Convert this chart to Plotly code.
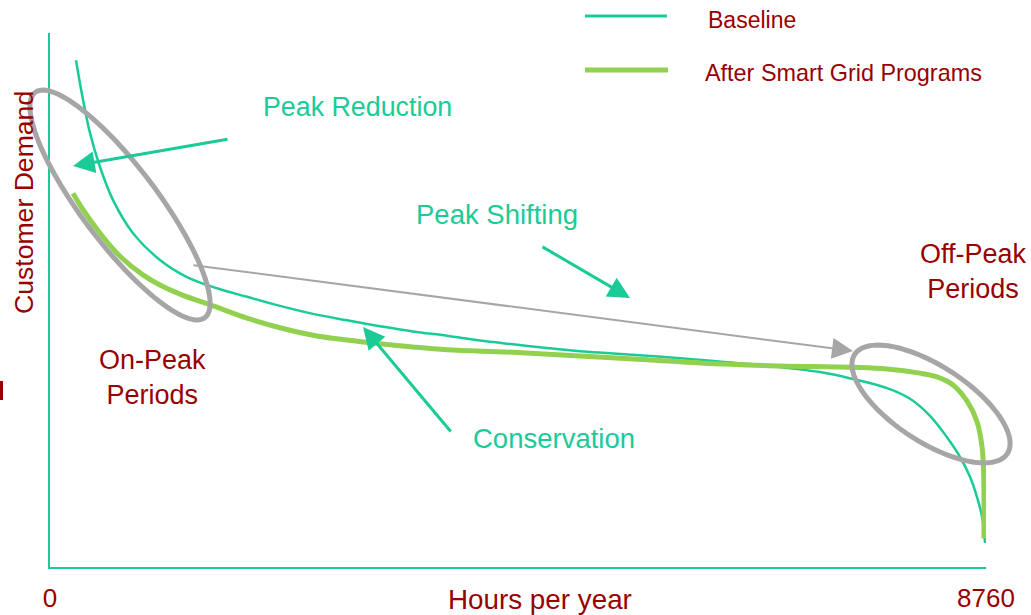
import numpy as np
import plotly.graph_objects as go

# ---- data (hours per year vs. customer demand, % of axis height) ----
baseline_hours = [243, 309, 374, 468, 590, 777, 1029, 1282, 1563, 1844, 2153, 2461, 2780,
                  3088, 3397, 3716, 4024, 4333, 4651, 4960, 5269, 5896, 6551, 7206, 7515,
                  7834, 8049, 8236, 8395, 8517, 8610, 8676, 8723, 8751]
baseline_demand = [94.9, 87.5, 81.3, 74.9, 68.7, 62.5, 57.5, 54.3, 52.2, 50.6, 48.9, 47.4, 46.2,
                   45.1, 44.1, 43.3, 42.4, 41.7, 41.0, 40.4, 40.0, 39.1, 38.0, 36.5, 35.2,
                   33.5, 31.5, 28.3, 24.3, 20.6, 16.9, 13.1, 9.4, 4.5]

after_hours = [215, 309, 468, 655, 870, 1029, 1217, 1526, 1844, 2153, 2461, 2780, 3088, 3397,
               3716, 4333, 4960, 5587, 6083, 6739, 7515, 7834, 8142, 8301, 8451, 8582, 8676,
               8723, 8737, 8741, 8741]
after_demand = [70.0, 66.9, 62.5, 58.2, 54.7, 52.8, 51.1, 48.9, 46.6, 44.8, 43.4, 42.5, 41.8, 41.2,
                40.7, 40.2, 39.5, 38.8, 38.2, 37.7, 37.4, 37.1, 36.3, 35.6, 34.1, 31.1, 27.2,
                22.5, 18.2, 13.1, 5.4]

x_tick_vals = [0, 8760]
x_tick_text = ["0", "8760"]
series_names = ["Baseline", "After Smart Grid Programs"]

# ---- style ----
TEAL = "#1ACB98"
GREEN = "#92D050"
RED = "#990000"
GRAY = "#A6A6A6"
FONT = "Liberation Sans, Arial, sans-serif"

W, H = 1031, 615
L, R, T, B = 50, 45, 33, 48
PW, PH = W - L - R, H - T - B


def PX(x):
    return (x - L) / PW


def PY(y):
    return (H - B - y) / PH


fig = go.Figure()
fig.add_trace(go.Scatter(x=baseline_hours, y=baseline_demand, mode="lines", name=series_names[0],
                         line=dict(color=TEAL, width=2.5, shape="spline", smoothing=1.0),
                         showlegend=False))
fig.add_trace(go.Scatter(x=after_hours, y=after_demand, mode="lines", name=series_names[1],
                         line=dict(color=GREEN, width=5, shape="spline", smoothing=1.0),
                         showlegend=False))

shapes = []


def ellipse_path(cx, cy, a, b, ang_deg, n=120):
    t = np.linspace(0, 2 * np.pi, n, endpoint=False)
    th = np.deg2rad(ang_deg)
    xs = cx + a * np.cos(t) * np.cos(th) - b * np.sin(t) * np.sin(th)
    ys = cy + a * np.cos(t) * np.sin(th) + b * np.sin(t) * np.cos(th)
    pts = [f"{PX(x):.5f},{PY(y):.5f}" for x, y in zip(xs, ys)]
    return "M " + " L ".join(pts) + " Z"


for (cx, cy, a, b, ang) in [(120, 205, 141, 38, 53), (931, 404, 91, 38, 33)]:
    shapes.append(dict(type="path", xref="paper", yref="paper", path=ellipse_path(cx, cy, a, b, ang),
                       line=dict(color=GRAY, width=5), fillcolor="rgba(0,0,0,0)", layer="above"))

# legend samples
shapes.append(dict(type="line", xref="paper", yref="paper", x0=PX(585), x1=PX(667), y0=PY(16), y1=PY(16),
                   line=dict(color=TEAL, width=3)))
shapes.append(dict(type="line", xref="paper", yref="paper", x0=PX(585), x1=PX(668), y0=PY(70), y1=PY(70),
                   line=dict(color=GREEN, width=5)))
# clipped glyph fragment at left edge
shapes.append(dict(type="line", xref="paper", yref="paper", x0=PX(1.5), x1=PX(1.5), y0=PY(381), y1=PY(400),
                   line=dict(color=RED, width=3)))

annotations = []


def text(s, x, y, color, size, xanchor="center", angle=0):
    annotations.append(dict(text=s, x=PX(x), y=PY(y), xref="paper", yref="paper", showarrow=False,
                            xanchor=xanchor, yanchor="middle", textangle=angle,
                            font=dict(family=FONT, size=size, color=color)))


def arrow(x0, y0, x1, y1, color, width, size):
    annotations.append(dict(text="", x=PX(x1), y=PY(y1), xref="paper", yref="paper",
                            ax=x0 - x1, ay=y0 - y1, axref="pixel", ayref="pixel",
                            showarrow=True, arrowhead=2, arrowsize=size, arrowwidth=width,
                            arrowcolor=color, standoff=0))


text("Baseline", 706, 20, RED, 23, xanchor="left")
text("After Smart Grid Programs", 703, 73, RED, 23.4, xanchor="left")
text("Peak Reduction", 357, 107, TEAL, 26.8)
text("Peak Shifting", 497, 214, TEAL, 27.5)
text("Conservation", 554, 438, TEAL, 27.5)
text("On-Peak<br>Periods", 152, 377, RED, 27)
text("Off-Peak<br>Periods", 973, 271, RED, 27)
text("Customer Demand", 24, 203, RED, 26.6, angle=-90)
text("Hours per year", 540, 599, RED, 27.8)

arrow(229, 139, 73, 166, TEAL, 3, 1.45)
arrow(541, 246, 630, 298, TEAL, 3, 1.45)
arrow(452, 433, 363, 327, TEAL, 3, 1.45)
arrow(192, 265, 853, 351, GRAY, 2, 2.1)

fig.update_layout(
    width=W, height=H, margin=dict(l=L, r=R, t=T, b=B, autoexpand=False),
    paper_bgcolor="white", plot_bgcolor="white",
    shapes=shapes, annotations=annotations,
    xaxis=dict(range=[0, 8760], showgrid=False, zeroline=False, showline=True, linecolor=TEAL, linewidth=2,
               tickvals=x_tick_vals, ticktext=x_tick_text, ticks="", ticklabelstandoff=7,
               automargin=False,
               tickfont=dict(family=FONT, size=26, color=RED), fixedrange=True),
    yaxis=dict(range=[0, 100], showgrid=False, zeroline=False, showline=True, linecolor=TEAL, linewidth=2,
               showticklabels=False, ticks="", fixedrange=True, automargin=False),
)

fig.write_html("out.html", config={"displayModeBar": False},
               post_script="document.body.style.margin='0';document.body.style.overflow='hidden';")
